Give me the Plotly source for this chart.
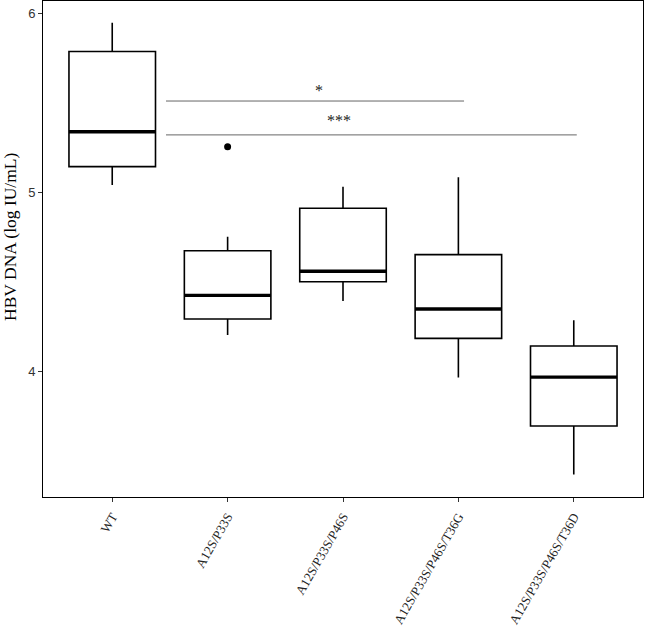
import plotly.graph_objects as go

categories = ["WT", "A12S/P33S", "A12S/P33S/P46S", "A12S/P33S/P46S/T36G", "A12S/P33S/P46S/T36D"]
upper_whisker = [5.946, 4.752, 5.031, 5.084, 4.286]
q3_values = [5.785, 4.674, 4.911, 4.652, 4.142]
medians = [5.338, 4.425, 4.559, 4.349, 3.969]
q1_values = [5.143, 4.293, 4.501, 4.185, 3.696]
lower_whisker = [5.041, 4.204, 4.393, 3.967, 3.426]
outlier_cat = [1]
outlier_val = [5.254]

# significance brackets
sig_x0 = [0.466, 0.466]
sig_x1 = [3.049, 4.026]
sig_y = [5.509, 5.320]
sig_labels = ["*", "***"]
sig_label_x = [1.79, 1.966]
sig_label_y = [5.568, 5.398]

box_width = 0.75
serif = "Liberation Serif, Times New Roman, serif"
sans = "Liberation Sans, Arial, sans-serif"

fig = go.Figure()
for i, c in enumerate(categories):
    fig.add_trace(go.Box(
        x=[i], q1=[q1_values[i]], median=[medians[i]], q3=[q3_values[i]],
        lowerfence=[lower_whisker[i]], upperfence=[upper_whisker[i]],
        width=box_width, whiskerwidth=0, fillcolor="white",
        line=dict(color="black", width=1.6), boxpoints=False,
        showlegend=False, hoverinfo="skip"))
    fig.add_trace(go.Scatter(
        x=[i - box_width / 2, i + box_width / 2], y=[medians[i], medians[i]],
        mode="lines", line=dict(color="black", width=3.4),
        showlegend=False, hoverinfo="skip"))

fig.add_trace(go.Scatter(x=outlier_cat, y=outlier_val, mode="markers",
                         marker=dict(color="black", size=7),
                         showlegend=False, hoverinfo="skip"))

for x0, x1, y, lab, lx, ly in zip(sig_x0, sig_x1, sig_y, sig_labels, sig_label_x, sig_label_y):
    fig.add_trace(go.Scatter(x=[x0, x1], y=[y, y], mode="lines",
                             line=dict(color="#666666", width=1),
                             showlegend=False, hoverinfo="skip"))
    fig.add_annotation(x=lx, y=ly, text=lab, showarrow=False,
                       font=dict(family=serif, size=16, color="#222"),
                       xanchor="center", yanchor="middle")

fig.add_annotation(xref="paper", yref="paper", x=-(43 - 10) / 600, y=(497 - 237) / 496,
                   text="HBV DNA (log IU/mL)", textangle=-90, showarrow=False,
                   font=dict(family=serif, size=17.5, color="black"),
                   xanchor="center", yanchor="middle")

fig.update_layout(
    width=646, height=630,
    margin=dict(l=43, r=3, t=1, b=133),
    plot_bgcolor="white", paper_bgcolor="white",
    xaxis=dict(range=[-0.6, 4.6], tickmode="array", tickvals=list(range(len(categories))),
               ticktext=categories, tickangle=-60, automargin=False, ticklabelstandoff=2,
               tickfont=dict(family=serif, size=13, color="#222"),
               showline=True, linecolor="black", linewidth=1, mirror=True,
               ticks="outside", ticklen=4, tickcolor="#333", showgrid=False, zeroline=False),
    yaxis=dict(range=[3.30, 6.067], tickvals=[4, 5, 6], automargin=False,
               tickfont=dict(family=sans, size=13, color="#333"),
               showline=True, linecolor="black", linewidth=1, mirror=True,
               ticks="outside", ticklen=4, tickcolor="#333", showgrid=False, zeroline=False),
)

fig.write_html("out.html", config={"displayModeBar": False},
               post_script="document.body.style.margin='0';document.body.style.overflow='hidden';")
